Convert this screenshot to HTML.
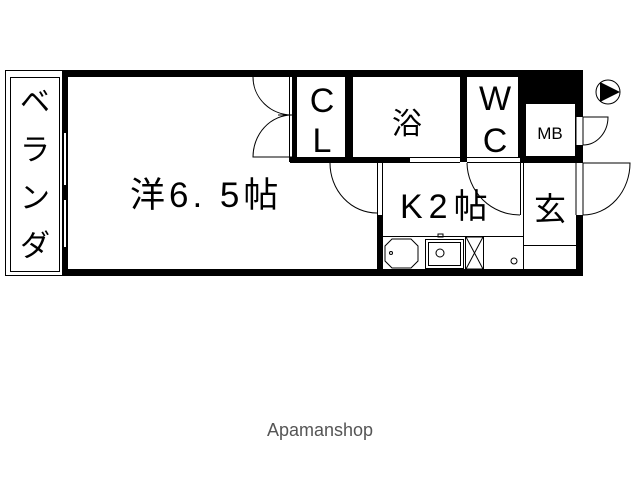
<!DOCTYPE html>
<html><head><meta charset="utf-8"><style>
html,body{margin:0;padding:0;background:#fff;}
svg{display:block;}
text{font-family:"Liberation Sans","Noto Sans CJK JP",sans-serif;fill:#000;}
</style></head><body>
<svg width="640" height="479" viewBox="0 0 640 479" xmlns="http://www.w3.org/2000/svg">
<!-- balcony -->
<rect x="5.5" y="70.5" width="57" height="205" fill="none" stroke="#000" stroke-width="1"/>
<rect x="10.5" y="77.5" width="49" height="194" fill="none" stroke="#000" stroke-width="1"/>
<text x="35" y="112" font-size="30" text-anchor="middle">ベ</text>
<text x="35" y="160" font-size="30" text-anchor="middle">ラ</text>
<text x="35" y="208" font-size="30" text-anchor="middle">ン</text>
<text x="35" y="256" font-size="30" text-anchor="middle">ダ</text>
<!-- outer walls -->
<rect x="62" y="70" width="521" height="7" fill="#000"/>
<rect x="62" y="269" width="521" height="7" fill="#000"/>
<rect x="62" y="70" width="6" height="206" fill="#000"/>
<rect x="64" y="133" width="2" height="52" fill="#fff"/>
<rect x="64" y="200" width="2" height="47" fill="#fff"/>
<!-- right wall with openings -->
<rect x="576" y="70" width="7" height="47" fill="#000"/>
<rect x="576" y="145" width="7" height="18" fill="#000"/>
<rect x="576" y="215" width="7" height="61" fill="#000"/>
<g fill="none" stroke="#000" stroke-width="1">
<line x1="576" y1="117" x2="576" y2="145"/><line x1="583" y1="117" x2="583" y2="145"/>
<line x1="576" y1="163" x2="576" y2="215"/><line x1="583" y1="163" x2="583" y2="215"/>
<path d="M583 117 H608 A25 28 0 0 1 583 145"/>
<path d="M583 163 H630 A47 52 0 0 1 583 215"/>
</g>
<!-- CL -->
<rect x="292" y="77" width="5" height="85" fill="#000"/>
<line x1="289.5" y1="77" x2="289.5" y2="162" stroke="#000"/>
<rect x="345" y="77" width="8" height="80" fill="#000"/>
<rect x="460" y="77" width="7" height="85" fill="#000"/>
<rect x="518" y="77" width="7" height="80" fill="#000"/>
<rect x="525" y="77" width="51" height="26" fill="#000"/>
<rect x="525.5" y="103.5" width="50" height="53" fill="none" stroke="#000"/>
<!-- horizontal wall under CL/bath -->
<rect x="290" y="157" width="120" height="6" fill="#000"/>
<g stroke="#000" stroke-width="1" fill="none">
<line x1="410" y1="157.5" x2="460" y2="157.5"/><line x1="410" y1="162.5" x2="460" y2="162.5"/>
<line x1="467" y1="157.5" x2="520" y2="157.5"/><line x1="467" y1="162.5" x2="520" y2="162.5"/>
</g>
<rect x="520" y="157" width="57" height="6" fill="#000"/>
<g fill="none" stroke="#000" stroke-width="1">
<path d="M253 77 A39 38 0 0 0 292 115"/>
<line x1="278" y1="115" x2="292" y2="115"/>
<path d="M292 115 A39 42 0 0 0 253 157 H292"/>
<line x1="377.5" y1="163" x2="377.5" y2="215"/><line x1="382.5" y1="163" x2="382.5" y2="215"/>
<path d="M330 163 A47 50 0 0 0 377 213"/>
<path d="M467 163 A53 53 0 0 0 520 215"/>
<line x1="520.5" y1="163" x2="520.5" y2="215"/>
<line x1="523.5" y1="163" x2="523.5" y2="270"/>
<line x1="523" y1="245.5" x2="576" y2="245.5"/>
<line x1="383" y1="236.5" x2="523" y2="236.5"/>
<path d="M392 239 H411 L418 246 V261 L411 268 H392 L385 261 V246 Z"/>
<circle cx="391" cy="253" r="1.5"/>
<rect x="425.5" y="239.5" width="38" height="29"/>
<rect x="428.5" y="242.5" width="32" height="23"/>
<circle cx="440" cy="253" r="4"/>
<rect x="438" y="234" width="5" height="3"/>
<rect x="465.5" y="237" width="18" height="32"/>
<path d="M466 237 L483 269 M483 237 L466 269"/>
<circle cx="514" cy="261" r="3"/>
<circle cx="608" cy="92" r="12"/>
</g>
<rect x="377" y="215" width="6" height="55" fill="#000"/>
<path d="M600 82 L620 92 L600 102 Z" fill="#000"/>
<!-- labels -->
<text x="322" y="112" font-size="34" text-anchor="middle">C</text>
<text x="322" y="152" font-size="34" text-anchor="middle">L</text>
<text x="407" y="134" font-size="30" text-anchor="middle">浴</text>
<text x="495" y="110" font-size="34" text-anchor="middle">W</text>
<text x="495" y="152" font-size="34" text-anchor="middle">C</text>
<text x="550" y="139" font-size="17" text-anchor="middle">MB</text>
<text x="130" y="207" font-size="35" letter-spacing="4">洋6. 5帖</text>
<text x="400" y="218" font-size="34" letter-spacing="6">K2帖</text>
<text x="550" y="220" font-size="32" text-anchor="middle">玄</text>
<text x="320" y="436" font-size="18" text-anchor="middle" style="fill:#555">Apamanshop</text>
</svg>
</body></html>
